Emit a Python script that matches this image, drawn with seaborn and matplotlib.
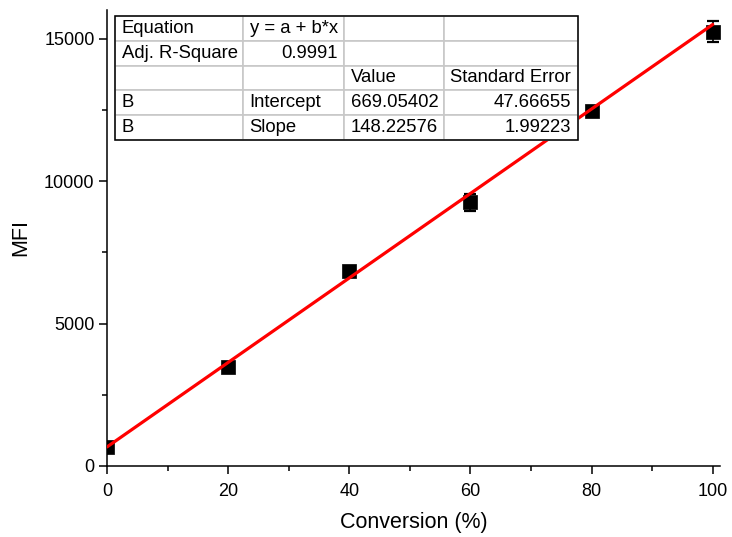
import numpy as np
import pandas as pd
import matplotlib
matplotlib.use("Agg")
import matplotlib.pyplot as plt
from matplotlib.patches import Rectangle
from matplotlib.ticker import MultipleLocator
import seaborn as sns

# ---- data ----
conversion = [0, 20, 40, 60, 80, 100]
mfi = [650, 3460, 6830, 9250, 12440, 15240]
mfi_err = [90, 170, 110, 300, 120, 370]
fit_intercept = 669.05402
fit_slope = 148.22576
fit_x = [0, 100]

table_rows = [
    ["Equation", "y = a + b*x", "", ""],
    ["Adj. R-Square", "0.9991", "", ""],
    ["", "", "Value", "Standard Error"],
    ["B", "Intercept", "669.05402", "47.66655"],
    ["B", "Slope", "148.22576", "1.99223"],
]
table_align = [
    ["left", "left", "left", "left"],
    ["left", "right", "left", "left"],
    ["left", "left", "left", "left"],
    ["left", "left", "left", "right"],
    ["left", "left", "left", "right"],
]

sns.set_theme(style="ticks")
plt.rcParams["font.family"] = ["Liberation Sans", "DejaVu Sans"]

W, H = 732, 537
fig = plt.figure(figsize=(W / 100, H / 100), dpi=100)
ax_l, ax_r, ax_t, ax_b = 107, 720, 10, 466
ax = fig.add_axes([ax_l / W, (H - ax_b) / H, (ax_r - ax_l) / W, (ax_b - ax_t) / H])

df = pd.DataFrame({"x": conversion, "y": mfi, "err": mfi_err})

ax.errorbar(df["x"], df["y"], yerr=df["err"], fmt="none", ecolor="black",
            elinewidth=1.2, capsize=4.3, capthick=1.6, zorder=2)
sns.scatterplot(data=df, x="x", y="y", marker="s", s=90, color="black",
                edgecolor="black", linewidth=0.5, ax=ax, zorder=3)

fit_df = pd.DataFrame({"x": fit_x,
                       "y": [fit_intercept + fit_slope * v for v in fit_x]})
sns.lineplot(data=fit_df, x="x", y="y", color="#ff0000", linewidth=2.3, ax=ax, zorder=4)

ax.set_xlim(0, 101.2)
ax.set_ylim(0, 16000)
ax.xaxis.set_major_locator(MultipleLocator(20))
ax.xaxis.set_minor_locator(MultipleLocator(10))
ax.yaxis.set_major_locator(MultipleLocator(5000))
ax.yaxis.set_minor_locator(MultipleLocator(2500))
ax.tick_params(which="major", direction="out", length=6, width=1.1,
               labelsize=13, colors="black")
ax.tick_params(axis="x", which="major", pad=6)
ax.tick_params(axis="y", which="major", pad=3)
ax.tick_params(which="minor", direction="out", length=3.5, width=1.1, colors="black")
for s in ["top", "right"]:
    ax.spines[s].set_visible(False)
for s in ["left", "bottom"]:
    ax.spines[s].set_linewidth(1.1)
    ax.spines[s].set_color("black")

ax.set_xlabel("Conversion (%)", fontsize=15.5, color="black", labelpad=9)
ax.set_ylabel("MFI", fontsize=15.5, color="black", labelpad=9)

# ---- fit table ----
aw, ah = ax_r - ax_l, ax_b - ax_t
tx0, tx1, ty0, ty1 = 115, 578, 16, 140
col_px = [128, 101, 100, 134]
bbox = [(tx0 - ax_l) / aw, (ax_b - ty1) / ah, (tx1 - tx0) / aw, (ty1 - ty0) / ah]
tbl = ax.table(cellText=table_rows, colWidths=[c / sum(col_px) for c in col_px],
               bbox=bbox, cellLoc="left", zorder=5)
tbl.auto_set_font_size(False)
tbl.set_fontsize(13.3)
for (r, c), cell in tbl.get_celld().items():
    cell.set_edgecolor("#c8c8c8")
    cell.set_linewidth(1.2)
    cell.set_facecolor("white")
    cell._loc = table_align[r][c]
    cell.get_text().set_horizontalalignment(table_align[r][c])
    cell.PAD = 6.5 / col_px[c]
    cell.get_text().set_color("black")
ax.add_patch(Rectangle((bbox[0], bbox[1]), bbox[2], bbox[3], transform=ax.transAxes,
                       fill=False, edgecolor="black", linewidth=1.1, zorder=6,
                       clip_on=False))

fig.savefig("out.png", dpi=100)
